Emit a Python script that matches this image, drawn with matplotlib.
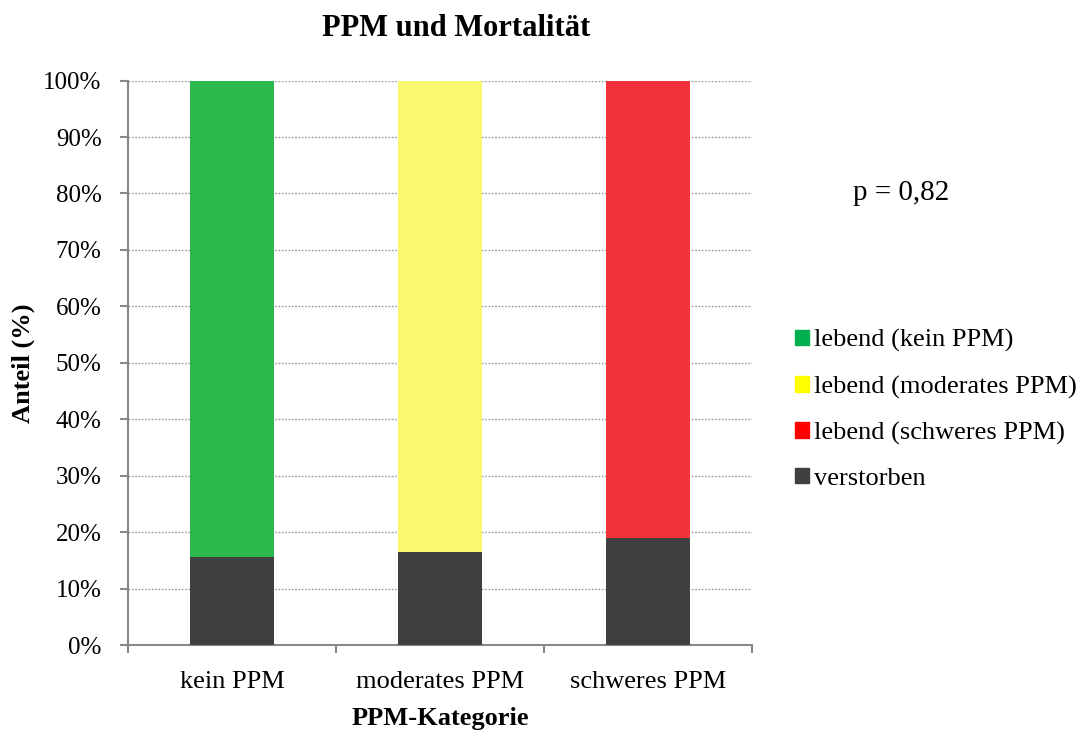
import matplotlib.pyplot as plt
from matplotlib.patches import Patch

plt.rcParams['font.family'] = ['Liberation Serif', 'DejaVu Serif']

categories = ["kein PPM", "moderates PPM", "schweres PPM"]
verstorben = [15.6, 16.4, 18.9]
lebend = [100 - v for v in verstorben]
lebend_labels = ["lebend (kein PPM)", "lebend (moderates PPM)", "lebend (schweres PPM)"]
bar_colors = ["#2DB84C", "#FAF870", "#F0323A"]
legend_colors = ["#00B050", "#FFFF00", "#FF0000"]
dark = "#404040"

fig = plt.figure(figsize=(10.81, 7.31), dpi=100)
ax = fig.add_axes([0.1184, 0.1176, 0.5772, 0.7722])

x = range(len(categories))
ax.bar(x, verstorben, width=0.4, color=dark, zorder=3)
ax.bar(x, lebend, bottom=verstorben, width=0.4, color=bar_colors, zorder=3)

ax.set_xlim(-0.5, 2.5)
ax.set_ylim(0, 100)
ax.set_yticks(range(0, 101, 10))
ax.set_yticklabels([f"{v}%" for v in range(0, 101, 10)], fontsize=18)
ax.set_xticks(list(x))
ax.set_xticklabels(categories, fontsize=19)
ax.set_xticks([-0.5, 0.5, 1.5, 2.5], minor=True)
ax.tick_params(axis='x', which='major', length=0, pad=19)
ax.tick_params(axis='x', which='minor', length=6, width=1.5, color="#888888")
ax.tick_params(axis='y', length=6, width=1.5, color="#888888", pad=13)

ax.grid(axis='y', linestyle=(0, (1.2, 1.2)), color="#999999", linewidth=1, zorder=0)
for side in ['top', 'right']:
    ax.spines[side].set_visible(False)
for side in ['left', 'bottom']:
    ax.spines[side].set_color("#888888")
    ax.spines[side].set_linewidth(1.5)

fig.text(456 / 1081, 1 - 29 / 731, "PPM und Mortalität", fontsize=22,
         fontweight='bold', ha='center', va='center')
fig.text(440 / 1081, 1 - 719 / 731, "PPM-Kategorie", fontsize=19,
         fontweight='bold', ha='center', va='center')
fig.text(23 / 1081, 1 - 363 / 731, "Anteil (%)", fontsize=19, fontweight='bold',
         rotation=90, ha='center', va='center')

fig.text(853 / 1081, 1 - 200 / 731, "p = 0,82", fontsize=21, va='baseline')

handles = [Patch(color=c, label=l) for c, l in zip(legend_colors, lebend_labels)]
handles.append(Patch(color=dark, label="verstorben"))
fig.legend(handles=handles, loc='center left',
           bbox_to_anchor=(795 / 1081, 1 - 409.5 / 731),
           frameon=False, fontsize=19, handlelength=0.53, handleheight=0.53,
           handletextpad=0.18, labelspacing=0.87, borderpad=0, borderaxespad=0)

fig.savefig("out.png", dpi=100)
